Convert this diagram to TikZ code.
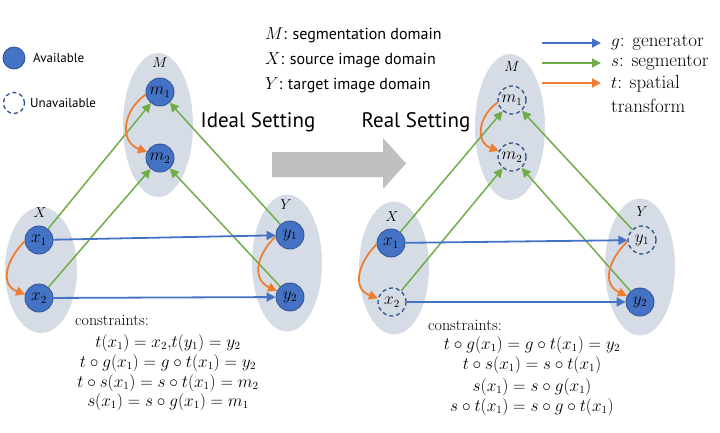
\documentclass[tikz,border=0pt]{standalone}
\usepackage{fontspec}
\usepackage{graphicx}
\usetikzlibrary{arrows.meta,shapes.geometric}
\newfontfamily\uisans{PT Sans}
\definecolor{domfill}{HTML}{D6DCE5}
\definecolor{nodefill}{HTML}{4472C4}
\definecolor{nodeline}{HTML}{2F528F}
\definecolor{gblue}{HTML}{4472C4}
\definecolor{sgreen}{HTML}{70AD47}
\definecolor{torange}{HTML}{ED7D31}
\definecolor{bigarrow}{HTML}{BFBFBF}
\tikzset{
  domblob/.style={ellipse, fill=domfill, draw=none, inner sep=0pt},
  avail/.style={circle, fill=nodefill, draw=nodeline, line width=0.8pt, minimum size=28pt, inner sep=0pt, font=\fontsize{16}{18}\selectfont},
  unavail/.style={circle, draw=nodeline, dash pattern=on 4pt off 3pt, line width=1.3pt, minimum size=28pt, inner sep=0pt, font=\fontsize{16}{18}\selectfont},
  domlabel/.style={inner sep=0pt, font=\fontsize{14}{16}\selectfont},
  garrow/.style={draw=gblue, line width=1.8pt, -{Triangle[length=9pt,width=9pt]}},
  sarrow/.style={draw=sgreen, line width=1.5pt, -{Triangle[length=9pt,width=9pt]}},
  tarrow/.style={draw=torange, line width=1.8pt, -{Triangle[length=9pt,width=9pt]}},
  constr/.style={inner sep=0pt, font=\fontsize{16}{20}\selectfont},
  legtext/.style={inner sep=0pt, font=\fontsize{19}{24}\selectfont},
}
\begin{document}
\begin{tikzpicture}[x=1pt,y=-1pt]
\useasboundingbox (0,0) rectangle (720,432);

% ---------------- legend (left) ----------------
\node[avail, minimum size=22pt] (legA) at (14,58) {};
\node[inner sep=0pt, anchor=west, font=\uisans\fontsize{13}{15}\selectfont] (legAt) at (33,58) {Available};
\node[unavail, minimum size=21pt] (legU) at (14,103) {};
\node[inner sep=0pt, anchor=west, font=\uisans\fontsize{13}{15}\selectfont] (legUt) at (30,103) {Unavailable};

% ---------------- domain key (top centre) ----------------
\node[inner sep=0pt, anchor=north west, align=left, font=\uisans\fontsize{16}{25}\selectfont] (key) at (265,27)
  {$M$: segmentation domain\\ $X$: source image domain\\ $Y$: target image domain};

% ---------------- arrow legend (right) ----------------
\coordinate (lg1) at (542,43); \coordinate (lg1e) at (601,43);
\coordinate (lg2) at (542,63); \coordinate (lg2e) at (601,63);
\coordinate (lg3) at (542,83); \coordinate (lg3e) at (601,83);
\draw[garrow] (lg1) -- (lg1e);
\draw[sarrow] (lg2) -- (lg2e);
\draw[tarrow] (lg3) -- (lg3e);
\node[legtext, anchor=west] (lgt1) at (611,43) {$g$: generator};
\node[legtext, anchor=west] (lgt2) at (611,63) {$s$: segmentor};
\node[legtext, anchor=north west, align=left] (lgt3) at (611,75) {$t$: spatial\\transform};

% ---------------- settings titles and big arrow ----------------
\node[inner sep=0pt, font=\uisans\fontsize{21}{24}\selectfont] (ideal) at (258,122) {Ideal Setting};
\node[inner sep=0pt, font=\uisans\fontsize{21}{24}\selectfont] (real) at (416,122) {Real Setting};
\fill[bigarrow] (272,152) -- (383,152) -- (383,138) -- (406,163.5) -- (383,189) -- (383,177) -- (272,177) -- cycle;

% ================= IDEAL SETTING =================
\node[domblob, minimum width=70pt, minimum height=144pt] (LM) at (158,125) {};
\node[domblob, minimum width=72pt, minimum height=126pt] (LX) at (41,270) {};
\node[domblob, minimum width=70pt, minimum height=137pt] (LY) at (287,263) {};
\node[domlabel] (LMl) at (160,63) {$M$};
\node[domlabel] (LXl) at (40,213) {$X$};
\node[domlabel] (LYl) at (286,205) {$Y$};
\node[avail] (Lm1) at (160,92) {$m_1$};
\node[avail] (Lm2) at (160,158) {$m_2$};
\node[avail] (Lx1) at (39,240) {$x_1$};
\node[avail] (Lx2) at (39,298) {$x_2$};
\node[avail] (Ly1) at (290,235) {$y_1$};
\node[avail] (Ly2) at (290,297) {$y_2$};

\draw[sarrow] (Lx1) -- (Lm1);
\draw[sarrow] (Lx2) -- (Lm2);
\draw[sarrow] (Ly1) -- (Lm1);
\draw[sarrow] (Ly2) -- (Lm2);
\draw[garrow] (Lx1) -- (Ly1);
\draw[garrow] (Lx2) -- (Ly2);
\draw[tarrow] (Lm1.190) to[out=215,in=160,looseness=1.3] (Lm2.155);
\draw[tarrow] (Lx1.185) to[out=225,in=160,looseness=1.3] (Lx2.165);
\draw[tarrow] (Ly1.185) to[out=225,in=155,looseness=1.3] (Ly2.155);

\node[constr, anchor=west] (Lc0) at (75,320) {constraints:};
\node[constr] (Lc1) at (168,343) {$t(x_1)=x_2{,}t(y_1)=y_2$};
\node[constr] (Lc2) at (168,363) {$t\circ g(x_1)=g\circ t(x_1)=y_2$};
\node[constr] (Lc3) at (168,383) {$t\circ s(x_1)=s\circ t(x_1)=m_2$};
\node[constr] (Lc4) at (168,402) {$s(x_1)=s\circ g(x_1)=m_1$};

% ================= REAL SETTING =================
\node[domblob, minimum width=70pt, minimum height=146pt] (RM) at (510,127) {};
\node[domblob, minimum width=70pt, minimum height=133pt] (RX) at (394,268) {};
\node[domblob, minimum width=70pt, minimum height=137pt] (RY) at (640,267) {};
\node[domlabel] (RMl) at (512,67) {$M$};
\node[domlabel] (RXl) at (392,217) {$X$};
\node[domlabel] (RYl) at (642,212) {$Y$};
\node[unavail] (Rm1) at (512,100) {$m_1$};
\node[unavail] (Rm2) at (512,157) {$m_2$};
\node[avail] (Rx1) at (391,243) {$x_1$};
\node[unavail] (Rx2) at (392,302) {$x_2$};
\node[unavail] (Ry1) at (642,240) {$y_1$};
\node[avail] (Ry2) at (640,302) {$y_2$};

\draw[sarrow] (Rx1) -- (Rm1);
\draw[sarrow] (Rx2) -- (Rm2);
\draw[sarrow] (Ry1) -- (Rm1);
\draw[sarrow] (Ry2) -- (Rm2);
\draw[garrow] (Rx1) -- (Ry1);
\draw[garrow] (Rx2) -- (Ry2);
\draw[tarrow] (Rm1.190) to[out=215,in=160,looseness=1.3] (Rm2.155);
\draw[tarrow] (Rx1.185) to[out=225,in=160,looseness=1.3] (Rx2.165);
\draw[tarrow] (Ry1.185) to[out=225,in=155,looseness=1.3] (Ry2.155);

\node[constr, anchor=west] (Rc0) at (428,325) {constraints:};
\node[constr] (Rc1) at (532,345) {$t\circ g(x_1)=g\circ t(x_1)=y_2$};
\node[constr] (Rc2) at (532,365) {$t\circ s(x_1)=s\circ t(x_1)$};
\node[constr] (Rc3) at (532,387) {$s(x_1)=s\circ g(x_1)$};
\node[constr] (Rc4) at (532,407) {$s\circ t(x_1)=s\circ g\circ t(x_1)$};
\end{tikzpicture}
\end{document}
